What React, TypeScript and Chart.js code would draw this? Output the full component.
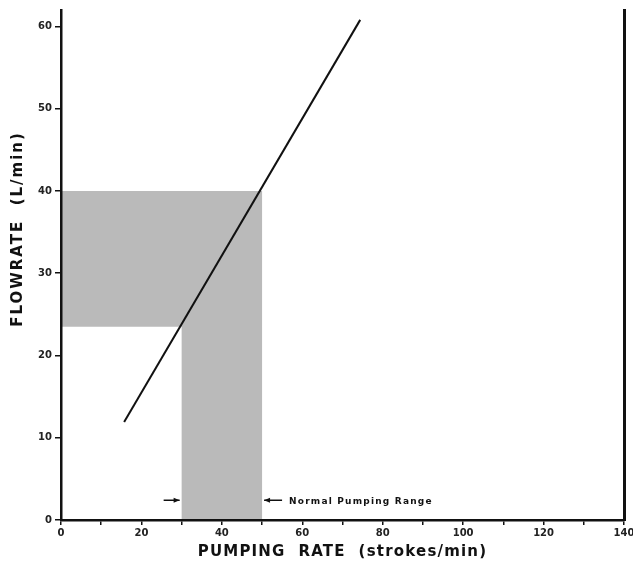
import { useEffect, useRef } from "react";
import { Chart, registerables } from "chart.js";

Chart.register(...registerables);

// Data
const pumpingRate = [15.7, 74.4]; // strokes/min (line end points)
const flowrate = [11.9, 60.8]; // L/min
const normalRangeX = [30, 50]; // normal pumping range, strokes/min
const normalRangeY = [23.5, 40]; // corresponding flowrate band, L/min
const xTickValues = [0, 10, 20, 30, 40, 50, 60, 70, 80, 90, 100, 110, 120, 130, 140];
const xLabelled = [0, 20, 40, 60, 80, 100, 120, 140];
const yTickValues = [0, 10, 20, 30, 40, 50, 60];
const xTitle = "PUMPING  RATE  (strokes/min)";
const yTitle = "FLOWRATE  (L/min)";
const noteText = "Normal Pumping Range";
const noteY = 2.4;

const FONT = "'DejaVu Sans', sans-serif";
const SHADE = "#bababa";

const drawPlugin = {
  id: "pumpDecor",
  beforeDraw(chart: any) {
    const { ctx, scales } = chart;
    const x = scales.x;
    const y = scales.y;
    const pts: [number, number][] = [
      [0, normalRangeY[1]],
      [normalRangeX[1], normalRangeY[1]],
      [normalRangeX[1], 0],
      [normalRangeX[0], 0],
      [normalRangeX[0], normalRangeY[0]],
      [0, normalRangeY[0]],
    ];
    ctx.save();
    ctx.fillStyle = SHADE;
    ctx.beginPath();
    pts.forEach(([px, py], i) => {
      const X = x.getPixelForValue(px);
      const Y = y.getPixelForValue(py);
      if (i === 0) ctx.moveTo(X, Y);
      else ctx.lineTo(X, Y);
    });
    ctx.closePath();
    ctx.fill();
    ctx.restore();
  },
  afterDraw(chart: any) {
    const { ctx, scales, chartArea } = chart;
    const x = scales.x;
    const y = scales.y;
    ctx.save();
    ctx.fillStyle = "#111";
    ctx.strokeStyle = "#111";
    // axis titles
    (ctx as any).letterSpacing = "1.2px";
    ctx.font = `bold 15px ${FONT}`;
    ctx.textAlign = "center";
    ctx.textBaseline = "middle";
    ctx.fillText(xTitle, (chartArea.left + chartArea.right) / 2, 552);
    ctx.save();
    ctx.translate(18, 229);
    ctx.rotate(-Math.PI / 2);
    (ctx as any).letterSpacing = "2px";
    ctx.fillText(yTitle, 0, 0);
    ctx.restore();

    // annotation arrows
    const ay = y.getPixelForValue(noteY);
    const lx = x.getPixelForValue(normalRangeX[0]);
    const rx = x.getPixelForValue(normalRangeX[1]);
    ctx.lineWidth = 1.5;
    const arrow = (from: number, to: number) => {
      ctx.beginPath();
      ctx.moveTo(from, ay);
      ctx.lineTo(to, ay);
      ctx.stroke();
      const d = to > from ? -1 : 1;
      ctx.beginPath();
      ctx.moveTo(to, ay);
      ctx.lineTo(to + d * 6, ay - 2.5);
      ctx.lineTo(to + d * 6, ay + 2.5);
      ctx.closePath();
      ctx.fill();
    };
    arrow(lx - 18, lx - 2);
    arrow(rx + 20, rx + 2);
    (ctx as any).letterSpacing = "1.2px";
    ctx.font = `bold 9px ${FONT}`;
    ctx.textAlign = "left";
    ctx.textBaseline = "middle";
    ctx.fillText(noteText, rx + 27, ay + 1);
    ctx.restore();
  },
};

export default function App() {
  const ref = useRef<HTMLCanvasElement | null>(null);
  useEffect(() => {
    if (!ref.current) return;
    const chart = new Chart(ref.current, {
      type: "scatter",
      data: {
        datasets: [
          {
            data: pumpingRate.map((v, i) => ({ x: v, y: flowrate[i] })),
            showLine: true,
            borderColor: "#111",
            borderWidth: 2,
            pointRadius: 0,
          },
        ],
      },
      options: {
        animation: false,
        responsive: false,
        events: [],
        layout: { padding: { top: 10, left: 0, right: 0, bottom: 0 } },
        plugins: { legend: { display: false }, tooltip: { enabled: false } },
        scales: {
          x: {
            type: "linear",
            min: 0,
            max: 140,
            afterBuildTicks: (s: any) => {
              s.ticks = xTickValues.map((v) => ({ value: v }));
            },
            afterFit: (s: any) => {
              s.height = 47;
              s.paddingLeft = 0;
              s.paddingRight = 0;
            },
            ticks: {
              autoSkip: false,
              maxRotation: 0,
              padding: 2,
              color: "#222",
              font: { family: FONT, size: 10, weight: "bold" },
              callback: (v: any) => (xLabelled.includes(Number(v)) ? String(v) : ""),
            },
            grid: {
              display: true,
              drawOnChartArea: false,
              drawTicks: true,
              tickLength: 5,
              color: "#111",
              lineWidth: 1.5,
            },
            border: { display: true, color: "#111", width: 2.5 },
          },
          y: {
            type: "linear",
            min: 0,
            max: 62,
            afterBuildTicks: (s: any) => {
              s.ticks = yTickValues.map((v) => ({ value: v }));
            },
            afterFit: (s: any) => {
              s.width = 61;
              s.paddingTop = 0;
              s.paddingBottom = 0;
            },
            ticks: {
              autoSkip: false,
              padding: 3,
              color: "#222",
              font: { family: FONT, size: 10, weight: "bold" },
            },
            grid: {
              display: true,
              drawOnChartArea: false,
              drawTicks: true,
              tickLength: 6,
              color: "#111",
              lineWidth: 1.5,
            },
            border: { display: true, color: "#111", width: 2.5 },
          },
          y2: {
            type: "linear",
            position: "right",
            display: true,
            afterFit: (s: any) => {
              s.width = 9;
              s.paddingTop = 0;
              s.paddingBottom = 0;
            },
            ticks: { display: false },
            grid: { display: false, drawTicks: false },
            border: { display: true, color: "#111", width: 3 },
          },
        },
      },
      plugins: [drawPlugin],
    } as any);
    return () => chart.destroy();
  }, []);
  return (
    <div style={{ position: "absolute", left: 0, top: 0, width: 633, height: 567, background: "#fff" }}>
      <canvas ref={ref} width={633} height={567} style={{ display: "block" }} />
    </div>
  );
}
